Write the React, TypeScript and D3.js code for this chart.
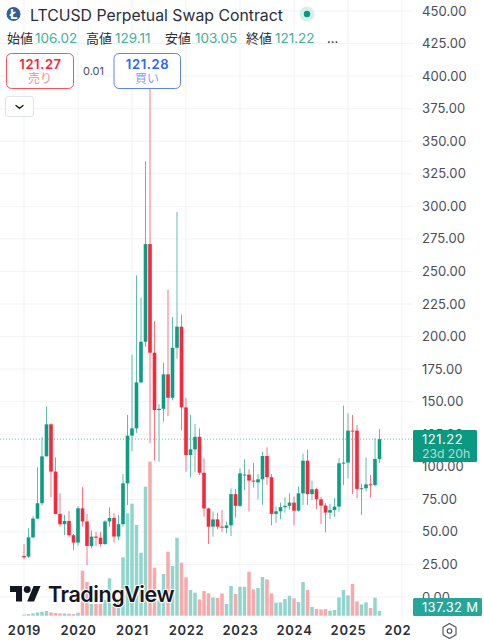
import React from "react";
import * as d3 from "d3";

const opens = [31.5,31,45.8,60.2,72,108,132.6,96.3,63.8,55.9,58.4,47.4,
  41.8,68.1,58,39.2,46.4,45.5,40.7,58,60.7,46.4,55.9,87.3,
  123.9,129.5,164.8,196,271,187.6,143.6,144.5,171,153,191.4,207.6,
  145.6,109,113.4,123,95.4,68,54,59.6,54,53,55,79,
  70,94,94,89.4,88,90.4,108.3,92,63.8,65.8,69,70,
  72.5,66.3,79.6,104.7,79,82.7,75,70.2,64.8,66.8,69.4,102.7,
  103.2,127.8,127.8,83,83.5,86.5,86,106.02];
const closes = [30.5,45.8,60.2,72,108,132.6,96.3,63.8,55.9,58.4,47.4,41.8,
  68.1,58,39.2,46.4,45.5,40.7,58,60.7,46.4,55.9,87.3,123.9,
  129.5,164.8,196,271,187.6,143.6,144.5,171,153,191.4,207.6,145.6,
  109,113.4,123,95.4,68,54,59.6,54,53.4,55,79,70,
  95,94,89.4,88.6,90.4,108.3,92,63.8,65.8,69,70,72.5,
  66.3,79.6,104.7,79,82.7,75,70.2,64.8,66.8,69.4,102.7,103.2,
  127.8,127.4,83,83.5,86.5,86,106,121.22];
const highs = [40.7,52.8,62.2,99.6,122.7,146.2,133.5,107.3,79.7,63,66,48.4,
  69.9,84.3,63.8,51,50,50,59,68.9,64.3,63,94.4,139.8,
  185.8,247,230,334.6,413,212,148,180,236,215,295.7,217,
  153,139.7,133,129.5,106.5,68.5,65.5,64.7,66.8,57.8,83.4,83,
  98.8,105.7,98,103,94.5,111.6,115,94.5,69.4,72.5,76.6,79.6,
  77,84.8,110,113,89.4,84,77,72,71.4,75.8,106.5,147,
  141,139.8,132,87,107,93.7,121.9,129.11];
const lows = [29,30,45,59.7,70.4,108,76.6,63.5,54,47.6,46.4,36.1,
  39.5,54,24.4,37.4,39,38.7,40,54,41.8,43.8,54,70.6,
  112,126,164,192,118,104.7,103.9,134.6,139,151,183,128.2,
  96.2,91.9,96.2,93.7,61.7,40.7,46.3,52,50,48.9,46.8,61,
  69,82,65.6,84,75,70.7,86,55,57,59.7,64.8,67,
  55,65.6,70.7,70.7,74.5,67.4,56,49.7,60,61.7,65.6,86,
  91,79,75.8,63,81,76.3,84.8,103.05];
const volumes = [29,44,67,96,116,136,96,78,67,67,58,49,
  87,1305,977,339,339,339,455,1082,348,464,1691,2967,
  3248,2630,1827,3741,4466,1392,435,1209,1856,1441,2262,1537,
  1111,745,667,473,716,647,531,513,647,339,861,629,
  841,841,1276,763,803,1122,1053,647,377,386,484,580,
  502,397,977,745,252,194,183,194,145,165,531,745,
  589,919,415,328,386,223,522,137.32];

const yearLabels = ["2019","2020","2021","2022","2023","2024","2025","2026"];
const priceTicks = [0,25,50,75,100,125,150,175,200,225,250,275,300,325,350,375,400,425,450];
const lastPrice = 121.22;
const statLabels = ["始値","高値","安値","終値"];
const statValues = ["106.02","129.11","103.05","121.22"];

const W = 484, H = 640, PANE = 413;
const UP = "#0d9c84", DOWN = "#f7283c", WICK_UP = "#62bcae", WICK_DOWN = "#fa7480";
const VOL_UP = "#92d5cd", VOL_DOWN = "#f9a9ab";
const SANS = "Inter, 'Noto Sans CJK JP', sans-serif";

export default function App() {
  const x = d3.scaleLinear().domain([0, 84]).range([24, 402]);
  const y = d3.scaleLinear().domain([0, 450]).range([597, 11]);
  const v = d3.scaleLinear().domain([0, 4466]).range([615.7, 461.7]);
  const yearIdx = yearLabels.map((_, i) => i * 12);
  const statX = [7, 86, 165, 246];
  const valX = [35, 115, 195, 275];
  return (
    <svg width={W} height={H} viewBox={`0 0 ${W} ${H}`} style={{ position: "absolute", left: 0, top: 0, background: "#fff" }} fontFamily={SANS}>
      <defs>
        <clipPath id="pane"><rect x={0} y={0} width={PANE - 2} height={H} /></clipPath>
      </defs>
      {priceTicks.map(t => (
        <line key={t} x1={0} x2={PANE} y1={y(t)} y2={y(t)} stroke="#f2f3f5" strokeWidth={1} />
      ))}
      {yearIdx.map(i => (
        <line key={i} x1={x(i)} x2={x(i)} y1={0} y2={618} stroke="#f0f1f3" strokeWidth={1} />
      ))}
      {volumes.map((d, i) => (
        <rect key={i} x={x(i) - 1.75} width={3.5} y={v(d)} height={615.7 - v(d)}
          fill={closes[i] >= opens[i] ? VOL_UP : VOL_DOWN} />
      ))}
      <line x1={0} x2={PANE} y1={y(lastPrice)} y2={y(lastPrice)} stroke="#089981" strokeWidth={1} strokeDasharray="1 2" opacity={0.6} />
      {opens.map((o, i) => {
        const c = closes[i];
        const up = c >= o;
        const top = Math.min(y(o), y(c));
        const h = Math.max(1, Math.abs(y(o) - y(c)));
        return (
          <g key={i}>
            <line x1={x(i)} x2={x(i)} y1={y(highs[i])} y2={y(lows[i])} stroke={up ? WICK_UP : WICK_DOWN} strokeWidth={1} />
            <rect x={x(i) - 1.8} width={3.6} y={top} height={h} fill={up ? UP : DOWN} />
          </g>
        );
      })}

      {/* watermark */}
      <g transform="translate(10,582.6) scale(0.86)" fill="#131722" stroke="#fff" strokeWidth={1.5} paintOrder="stroke">
        <path d="M14 22H7V11H0V4h14v18zM28 22h-8l7.5-18h8L28 22z" />
        <circle cx={20} cy={8} r={4} />
      </g>
      <text x={48} y={602} fontSize={21.5} fontWeight={600} fill="#131722" stroke="#fff" strokeWidth={2} paintOrder="stroke" letterSpacing={-0.45}>TradingView</text>

      {/* price axis */}
      {priceTicks.map(t => (
        <text key={t} x={422} y={y(t) + 4.5} fontSize={13} letterSpacing={0.1} fill="#4a4e59">{t.toFixed(2)}</text>
      ))}
      <rect x={413} y={430} width={64} height={32} rx={1.5} fill="#0b9981" />
      <text x={422} y={444} fontSize={13} letterSpacing={0.5} fill="#fff">{lastPrice.toFixed(2)}</text>
      <text x={422} y={458} fontSize={12.2} fill="#fff" opacity={0.65}>23d 20h</text>
      <rect x={413} y={598} width={69} height={18} rx={1.5} fill="#26a69a" />
      <text x={422} y={611.5} fontSize={13} letterSpacing={0.3} fill="#fff">137.32 M</text>

      {/* time axis */}
      <g clipPath="url(#pane)">
        {yearLabels.map((l, i) => (
          <text key={l} x={x(yearIdx[i]) + 0.5} y={635} textAnchor="middle" fontSize={13} fontWeight={600} letterSpacing={0.7} fill="#2a2e39">{l}</text>
        ))}
      </g>
      <path d="M449.5 623.5l6.5 3.7v7.6l-6.5 3.7-6.5-3.7v-7.6z" fill="none" stroke="#4a4e59" strokeWidth={1.1} strokeLinejoin="round" />
      <circle cx={449.5} cy={631} r={2.3} fill="none" stroke="#4a4e59" strokeWidth={1.1} />

      {/* header */}
      <circle cx={13.5} cy={14} r={7} fill="#345d9d" />
      <text x={13.5} y={18.8} textAnchor="middle" fontSize={13.5} fontWeight={700} fill="#fff">Ł</text>
      <text x={30} y={20.5} fontSize={15.8} fill="#2a2e39">LTCUSD Perpetual Swap Contract</text>
      <circle cx={307} cy={14} r={7.5} fill="#d6f0ec" />
      <circle cx={307} cy={14} r={3.2} fill="#089981" />
      {statLabels.map((l, i) => (
        <text key={l} x={statX[i]} y={43} fontSize={13} fill="#2a2e39">{l}</text>
      ))}
      {statValues.map((s, i) => (
        <text key={s} x={valX[i]} y={43} fontSize={13.5} fill="#42b09a">{s}</text>
      ))}
      <text x={327} y={43} fontSize={13} fill="#2a2e39">...</text>

      <rect x={6.5} y={53.5} width={67} height={35} rx={5} fill="#fff" stroke="#f7525f" />
      <text x={40.5} y={69} textAnchor="middle" fontSize={13} fontWeight={600} letterSpacing={0.6} fill="#f7253a">121.27</text>
      <text x={40} y={83} textAnchor="middle" fontSize={12} fill="#f98a92">売り</text>
      <text x={93.5} y={75} textAnchor="middle" fontSize={11} fill="#4a4e59">0.01</text>
      <rect x={114} y={53.5} width={66.5} height={35} rx={5} fill="#fff" stroke="#5b84f5" />
      <text x={147.5} y={69} textAnchor="middle" fontSize={13} fontWeight={600} letterSpacing={0.6} fill="#2962ff">121.28</text>
      <text x={147} y={83} textAnchor="middle" fontSize={12} fill="#7f9ef7">買い</text>

      <rect x={5.5} y={96.5} width={28} height={20} rx={2.5} fill="#fff" stroke="#e0e3eb" />
      <path d="M16 105.5l3.5 2.8 3.5-2.8" fill="none" stroke="#131722" strokeWidth={1.3} strokeLinecap="round" />
    </svg>
  );
}
